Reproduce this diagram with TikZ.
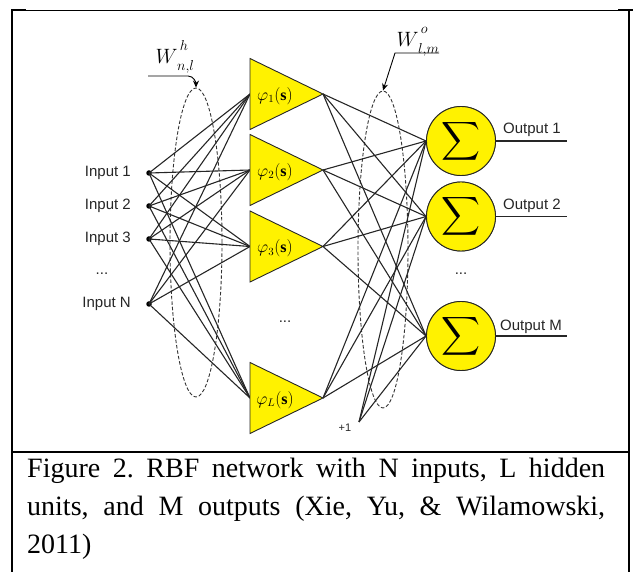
\documentclass[tikz,border=0pt]{standalone}
\usepackage{fontspec}
\setmainfont{Liberation Serif}
\newfontfamily\arialfont{Liberation Sans}
\usetikzlibrary{shapes.geometric,arrows.meta}
\begin{document}
\frenchspacing
\begin{tikzpicture}[x=1pt,y=-1pt,
  conn/.style={line width=1.1pt, black!85},
  hidtri/.style={draw=black!85, line width=0.9pt, fill=yellow},
  outnode/.style={circle, draw=black!85, line width=0.9pt, fill=yellow, minimum size=69pt, inner sep=0pt},
  indot/.style={circle, fill=black, inner sep=0pt, minimum size=5.5pt},
  inlabel/.style={font=\arialfont\fontsize{15}{15}\selectfont, text=black!85, anchor=east, inner sep=0pt},
  outlabel/.style={font=\arialfont\fontsize{15}{15}\selectfont, text=black!85, anchor=west, inner sep=0pt},
  ell/.style={ellipse, draw=black!80, line width=0.9pt, dash pattern=on 3.5pt off 2pt, inner sep=0pt},
  warrow/.style={line width=0.9pt, black, -{Stealth[length=7pt,width=6pt]}},
  hidlabel/.style={font=\fontsize{16}{16}\selectfont, inner sep=0pt},
  wlabel/.style={font=\fontsize{21}{21}\selectfont, inner sep=0pt},
  caption/.style={anchor=base west, inner sep=0pt, font=\fontsize{28}{28}\selectfont}]
\useasboundingbox (0,0) rectangle (633,572);
% frame
\draw[line width=1pt] (12,10.5) -- (629,10.5);
\draw[line width=2pt] (11,10.5) -- (26,10.5);
\draw[line width=2pt] (618,10.5) -- (633,10.5);
\draw[line width=2pt] (12,10) -- (12,572);
\draw[line width=1.2pt] (629,10) -- (629,572);
\draw[line width=1.5pt] (12,452) -- (629,452);
% dashed ellipses
\node[ell, minimum width=52pt, minimum height=309pt] (el1) at (196,242.5) {};
\node[ell, minimum width=50pt, minimum height=317pt] (el2) at (383,249.5) {};
% inputs
\node[indot] (in1) at (149,173) {};
\node[indot] (in2) at (149,206) {};
\node[indot] (in3) at (149,239) {};
\node[indot] (inN) at (149,304) {};
\node[inlabel] (lin1) at (131,173) {Input 1};
\node[inlabel] (lin2) at (131,206) {Input 2};
\node[inlabel] (lin3) at (131,239) {Input 3};
\node[inlabel, anchor=center] (lindots) at (102,274) {...};
\node[inlabel] (linN) at (131,304) {Input N};
% hidden coordinates
\foreach \n/\y in {1/94,2/170,3/246.5,L/398} {
  \coordinate (h\n w) at (250,\y);
  \coordinate (h\n e) at (323,\y);
}
% outputs
\node[outnode] (c1) at (461,141) {};
\node[outnode] (c2) at (461,216.5) {};
\node[outnode] (cM) at (461,336) {};
\coordinate (bias) at (359,422);
% connectors input -> hidden
\foreach \i in {1,2,3,N} \foreach \h in {1,2,3,L} \draw[conn] (in\i.center) -- (h\h w);
% hidden -> output
\foreach \h in {1,2,3,L} \foreach \o in {1,2,M} \draw[conn] (h\h e) -- (c\o.west);
\foreach \o in {1,2,M} \draw[conn] (bias) -- (c\o.west);
% triangles
\foreach \n/\y in {1/94,2/170,3/246.5,L/398} {
  \draw[hidtri] (250,{\y-35.5}) -- (323,\y) -- (250,{\y+35.5}) -- cycle;
  \node[hidlabel] (h\n) at (275,{\y+2}) {$\varphi_{\n}(\mathbf{s})$};
}
\node[inlabel, anchor=center] (hdots) at (285,322) {...};
% output circles on top
\node[outnode] at (c1) {};
\node[outnode] at (c2) {};
\node[outnode] at (cM) {};
\foreach \o in {1,2,M} \node[inner sep=0pt] (s\o) at (c\o) {\scalebox{2.7}{$\displaystyle\sum$}};
\coordinate (o1) at (567,141);
\coordinate (o2) at (567,216.5);
\coordinate (oM) at (567,336);
\foreach \o in {1,2,M} \draw[conn] (c\o.east) -- (o\o);
\node[outlabel] (lo1) at (503,130) {Output 1};
\node[outlabel] (lo2) at (503,206) {Output 2};
\node[outlabel] (loM) at (500,327) {Output M};
\node[inlabel, anchor=center] (odots) at (461,274) {...};
\node[font=\arialfont\fontsize{11}{11}\selectfont, inner sep=0pt, text=black!85] (biasl) at (345,428) {+1};
% weight labels
\node[wlabel] (wh) at (175,57) {$W^{\,\raisebox{5pt}{$\scriptstyle h$}}_{\,\raisebox{-2pt}{$\scriptstyle n,l$}}$};
\node[wlabel] (wo) at (418,42) {$W^{\,\raisebox{5pt}{$\scriptstyle o$}}_{\,\raisebox{-2pt}{$\scriptstyle l,m$}}$};
\coordinate (whs) at (148,76);
\coordinate (wos) at (439,53);
\draw[warrow] (whs) -- (188,76) to[out=0,in=90] (el1.north);
\draw[warrow] (wos) -- (395,53) -- (el2.north);
% caption
\node[caption] (cap1) at (27,478) {\makebox[578pt][s]{Figure 2. RBF network with N inputs, L hidden}};
\node[caption] (cap2) at (27,516) {\makebox[578pt][s]{units, and M outputs (Xie, Yu, \& Wilamowski,}};
\node[caption] (cap3) at (27,554) {2011)};
\end{tikzpicture}
\end{document}
